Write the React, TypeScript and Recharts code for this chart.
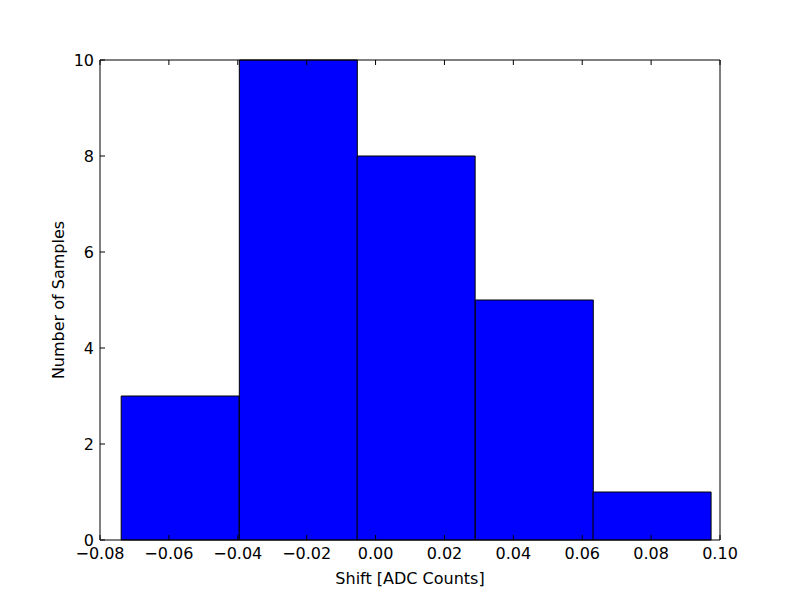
import React from 'react';
import { ComposedChart, Bar, XAxis, YAxis } from 'recharts';

// Histogram bins (left edges) and counts
const binStarts = [-0.0739, -0.0396, -0.0054, 0.0289, 0.0631];
const binWidth = 0.0343;
const counts = [3, 10, 8, 5, 1];

const xTicks = [-0.08, -0.06, -0.04, -0.02, 0.0, 0.02, 0.04, 0.06, 0.08, 0.1];
const yTicks = [0, 2, 4, 6, 8, 10];

const data = binStarts.map((start, i) => ({
  center: start + binWidth / 2,
  count: counts[i],
}));

const FONT = '"DejaVu Sans", sans-serif';

function formatX(v: number): string {
  const s = Math.abs(v).toFixed(2);
  return v < -1e-9 ? `\u2212${s}` : s;
}

function BottomTick({ x, y, payload }: any) {
  return (
    <g>
      <line x1={x} y1={y} x2={x} y2={y - 5} stroke="#000" strokeWidth={1} />
      <text x={x} y={y + 19} textAnchor="middle" fontFamily={FONT} fontSize={16} fill="#000">
        {formatX(payload.value)}
      </text>
    </g>
  );
}

function TopTick({ x, y }: any) {
  return <line x1={x} y1={y} x2={x} y2={y + 5} stroke="#000" strokeWidth={1} />;
}

function LeftTick({ x, y, payload }: any) {
  return (
    <g>
      <line x1={x} y1={y} x2={x + 5} y2={y} stroke="#000" strokeWidth={1} />
      <text x={x - 6} y={y + 6} textAnchor="end" fontFamily={FONT} fontSize={16} fill="#000">
        {payload.value}
      </text>
    </g>
  );
}

function RightTick({ x, y }: any) {
  return <line x1={x} y1={y} x2={x - 5} y2={y} stroke="#000" strokeWidth={1} />;
}

export default function App() {
  return (
    <div style={{ position: 'absolute', left: 0, top: 0, width: 800, height: 600, background: '#fff' }}>
      <ComposedChart
        width={800}
        height={600}
        data={data}
        margin={{ top: 59, right: 79, bottom: 0, left: 0 }}
        barCategoryGap={0}
        barGap={0}
      >
        <XAxis
          dataKey="center"
          type="number"
          domain={[-0.08, 0.1]}
          ticks={xTicks}
          interval={0}
          height={60}
          tickSize={0}
          tickMargin={0}
          tickLine={false}
          axisLine={{ stroke: '#000', strokeWidth: 1 }}
          tick={<BottomTick />}
          label={{
            value: 'Shift [ADC Counts]',
            position: 'insideBottom',
            offset: 16,
            style: { fontFamily: FONT, fontSize: 16, fill: '#000' },
          }}
        />
        <XAxis
          xAxisId="top"
          orientation="top"
          dataKey="center"
          type="number"
          domain={[-0.08, 0.1]}
          ticks={xTicks}
          interval={0}
          height={1}
          tickSize={0}
          tickMargin={0}
          tickLine={false}
          axisLine={{ stroke: '#000', strokeWidth: 1 }}
          tick={<TopTick />}
        />
        <YAxis
          type="number"
          domain={[0, 10]}
          ticks={yTicks}
          interval={0}
          width={100}
          tickSize={0}
          tickMargin={0}
          tickLine={false}
          axisLine={{ stroke: '#000', strokeWidth: 1 }}
          tick={<LeftTick />}
          label={{
            value: 'Number of Samples',
            angle: -90,
            position: 'insideLeft',
            offset: 58,
            style: { fontFamily: FONT, fontSize: 16, fill: '#000', textAnchor: 'middle' },
          }}
        />
        <YAxis
          yAxisId="right"
          orientation="right"
          type="number"
          domain={[0, 10]}
          ticks={yTicks}
          interval={0}
          width={1}
          tickSize={0}
          tickMargin={0}
          tickLine={false}
          axisLine={{ stroke: '#000', strokeWidth: 1 }}
          tick={<RightTick />}
        />
        <Bar
          dataKey="count"
          fill="#0000ff"
          stroke="#000"
          strokeWidth={1}
          isAnimationActive={false}
        />
      </ComposedChart>
    </div>
  );
}
